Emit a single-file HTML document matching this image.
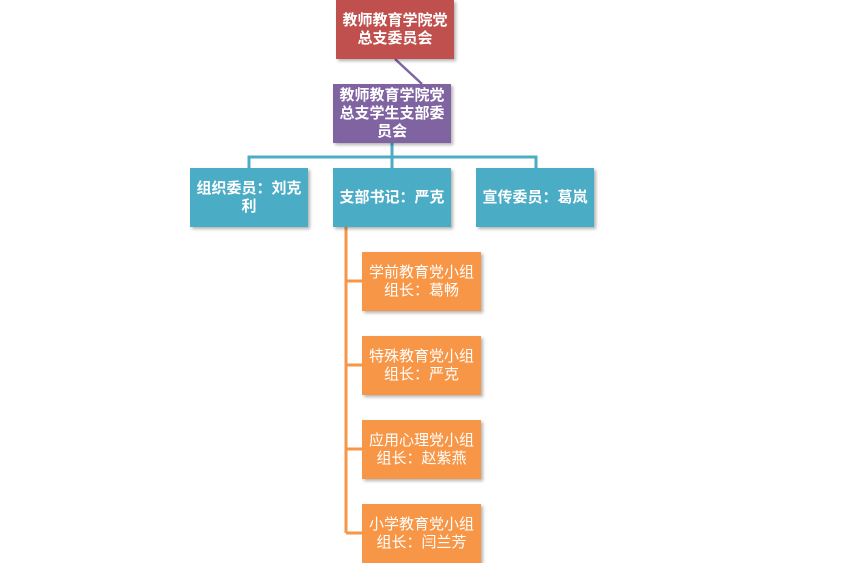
<!DOCTYPE html>
<html><head><meta charset="utf-8"><style>
body{margin:0;width:856px;height:563px;background:#fff;position:relative;overflow:hidden;font-family:"Liberation Sans","Noto Sans CJK SC",sans-serif;}
.b{position:absolute;color:#fff;font-size:15px;font-weight:bold;display:flex;align-items:center;justify-content:center;text-align:center;line-height:18px;box-shadow:2px 2px 3px rgba(0,0,0,0.3);box-sizing:border-box;padding:0 4px;}
.r{background:#c0504d}.p{background:#8064a2}.t{background:#4bacc6}.o{background:#f79646;font-weight:normal;}
</style></head><body>
<svg width="856" height="563" style="position:absolute;left:0;top:0">
<line x1="395" y1="59" x2="422" y2="84" stroke="#8064a2" stroke-width="2.5"/>
<g stroke="#4bacc6" stroke-width="3" fill="none">
<polyline points="249,168 249,157 536,157 536,168"/>
<line x1="392" y1="143" x2="392" y2="168"/>
</g>
<g stroke="#f79646" stroke-width="3" fill="none">
<line x1="346" y1="227" x2="346" y2="533"/>
<line x1="346" y1="281" x2="362" y2="281"/>
<line x1="346" y1="365" x2="362" y2="365"/>
<line x1="346" y1="449" x2="362" y2="449"/>
<line x1="346" y1="533" x2="362" y2="533"/>
</g>
</svg>
<div class="b r" style="left:336px;top:0;width:118px;height:59px">教师教育学院党<br>总支委员会</div>
<div class="b p" style="left:333px;top:84px;width:118px;height:59px">教师教育学院党<br>总支学生支部委<br>员会</div>
<div class="b t" style="left:190px;top:168px;width:118px;height:59px">组织委员：刘克<br>利</div>
<div class="b t" style="left:333px;top:168px;width:118px;height:59px">支部书记：严克</div>
<div class="b t" style="left:476px;top:168px;width:118px;height:59px">宣传委员：葛岚</div>
<div class="b o" style="left:362px;top:252px;width:119px;height:59px">学前教育党小组<br>组长：葛畅</div>
<div class="b o" style="left:362px;top:336px;width:119px;height:59px">特殊教育党小组<br>组长：严克</div>
<div class="b o" style="left:362px;top:420px;width:119px;height:59px">应用心理党小组<br>组长：赵紫燕</div>
<div class="b o" style="left:362px;top:504px;width:119px;height:59px">小学教育党小组<br>组长：闫兰芳</div>
</body></html>
